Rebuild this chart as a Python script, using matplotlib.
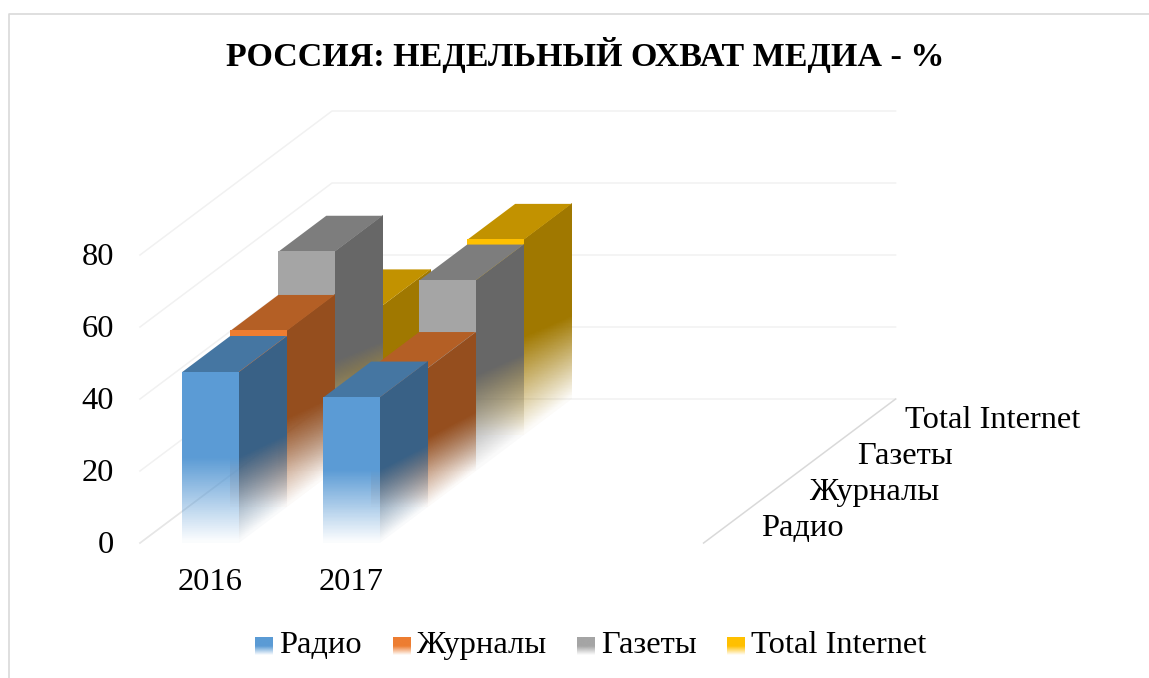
import numpy as np
import matplotlib
matplotlib.use("Agg")
import matplotlib.pyplot as plt
from matplotlib.colors import to_rgb
from matplotlib.lines import Line2D
from matplotlib.patches import Polygon
from matplotlib.transforms import Affine2D

plt.rcParams['font.family'] = ['Liberation Serif', 'DejaVu Serif']

#_____DATA_____
title = "РОССИЯ: НЕДЕЛЬНЫЙ ОХВАТ МЕДИА - %"
years = ["2016", "2017"]
series = ["Радио", "Журналы", "Газеты", "Total Internet"]
radio = [47.5, 40.4]
journals = [48.9, 38.6]
papers = [60.9, 52.9]
internet = [36.0, 54.2]
yticks = [0, 20, 40, 60, 80]
colors = ["#5B9BD5", "#ED7D31", "#A5A5A5", "#FFC000"]

#_____GEOMETRY (pixels of the picture)_____
W, H = 1149, 678
X0, Y0 = 140.0, 543.0    # front plane, category 0 / value 0
CAT_PX = 140.9
VAL_PX = 3.6
DX = 48.0 / CAT_PX       # one depth slot, in category units
DY = 10.0                # one depth slot, in value units
NCAT = 4
BAR_W = 0.4
BAR_OFF = 0.3


def proj(x, d, v):
    return x + d * DX, v + d * DY


def px(xp, yp):
    # picture pixel -> data
    return (xp - X0) / CAT_PX, (Y0 - yp) / VAL_PX


def shade(color, k):
    return tuple(c * k for c in to_rgb(color))


def gradient_img(color, narrow=0.0):
    # fades to white at the base, band gets narrower towards the back if narrow > 0
    v = np.linspace(0, 1, 256)[:, None]
    u = np.linspace(0, 1, 64)[None, :]
    img = np.zeros((256, 64, 4))
    img[:, :, :3] = to_rgb(color)
    img[:, :, 3] = np.clip(v / (0.5 * (1 - narrow * u)), 0.03, 1)
    return img


def face(ax, p0, pu, pv, color, z, narrow=0.0):
    # gradient parallelogram: p0 is the bottom corner, pu along the base, pv up
    tr = Affine2D.from_values(pu[0] - p0[0], pu[1] - p0[1],
                              pv[0] - p0[0], pv[1] - p0[1], p0[0], p0[1])
    ax.imshow(gradient_img(color, narrow), extent=(0, 1, 0, 1), origin="lower", aspect="auto",
              interpolation="nearest", transform=tr + ax.transData, zorder=z)


def bar(ax, x, d, val, color, z):
    x0 = x + BAR_OFF
    x1 = x0 + BAR_W
    # side
    face(ax, proj(x1, d, 0), proj(x1, d + 1, 0), proj(x1, d, val), shade(color, 0.63), z, narrow=0.15)
    # top
    ax.add_patch(Polygon([proj(x0, d, val), proj(x1, d, val), proj(x1, d + 1, val), proj(x0, d + 1, val)],
                         closed=True, fc=shade(color, 0.76), ec="none", zorder=z + 1))
    # front
    face(ax, proj(x0, d, 0), proj(x1, d, 0), proj(x0, d, val), color, z + 2)


def main():
    fig = plt.figure(figsize=(W / 100, H / 100), dpi=100)
    ax = fig.add_axes([0, 0, 1, 1])
    ax.axis("off")

    # chart frame
    fig.add_artist(Line2D([9 / W, 9 / W, 1], [0, 1 - 13.5 / H, 1 - 13.5 / H], color="#D9D9D9", lw=1.2))

    # walls
    for v in yticks:
        a = proj(0, 0, v)
        b = proj(0, 4, v)
        c = proj(NCAT, 4, v)
        ax.plot([a[0], b[0], c[0]], [a[1], b[1], c[1]], color="#F1F1F1", lw=1.1, zorder=1)
    a = proj(NCAT, 0, 0)
    b = proj(NCAT, 4, 0)
    ax.plot([a[0], b[0]], [a[1], b[1]], color="#D9D9D9", lw=1.1, zorder=1)
    a = proj(0, 0, 0)
    b = proj(0, 4, 0)
    ax.plot([a[0], b[0]], [a[1], b[1]], color="#E6E6E6", lw=1.1, zorder=1)

    # bars, back to front
    all_vals = [radio, journals, papers, internet]
    z = 2
    for d in range(3, -1, -1):
        for i in range(len(years)):
            bar(ax, i, d, all_vals[d][i], colors[d], z)
            z += 3

    # texts
    fs = 23.4
    for v in yticks:
        ax.text(px(114, 0)[0], v - 0.6, str(v), ha="right", va="center", fontsize=fs, color="black", zorder=50)
    for i, y in enumerate(years):
        ax.text(i + 0.5, -11.0, y, ha="center", va="center", fontsize=fs, color="black", zorder=50)
    for d, s in enumerate(series):
        p = proj(NCAT + 0.24, d + 0.5, -0.9)
        ax.text(p[0], p[1], s, ha="left", va="center", fontsize=fs, color="black", zorder=50)

    ax.text(*px(585.5, 55), title, ha="center", va="center", fontsize=24.5, fontweight="bold", color="black", zorder=50)

    # legend
    sw_x = [255, 393, 577, 727]
    tx_x = [279, 416, 601, 751]
    for i, s in enumerate(series):
        x0, y0 = px(sw_x[i], 655)
        x1, y1 = px(sw_x[i] + 18, 637)
        ax.imshow(gradient_img(colors[i]), extent=(x0, x1, y0, y1), origin="lower", aspect="auto",
                  interpolation="bilinear", zorder=50)
        ax.text(*px(tx_x[i], 645.5), s, ha="left", va="center", fontsize=fs, color="black", zorder=50)

    ax.set_xlim(px(0, 0)[0], px(W, 0)[0])
    ax.set_ylim(px(0, H)[1], px(0, 0)[1])

    fig.savefig("out.png", dpi=100)
    return 0


if __name__ == '__main__':
    main()
